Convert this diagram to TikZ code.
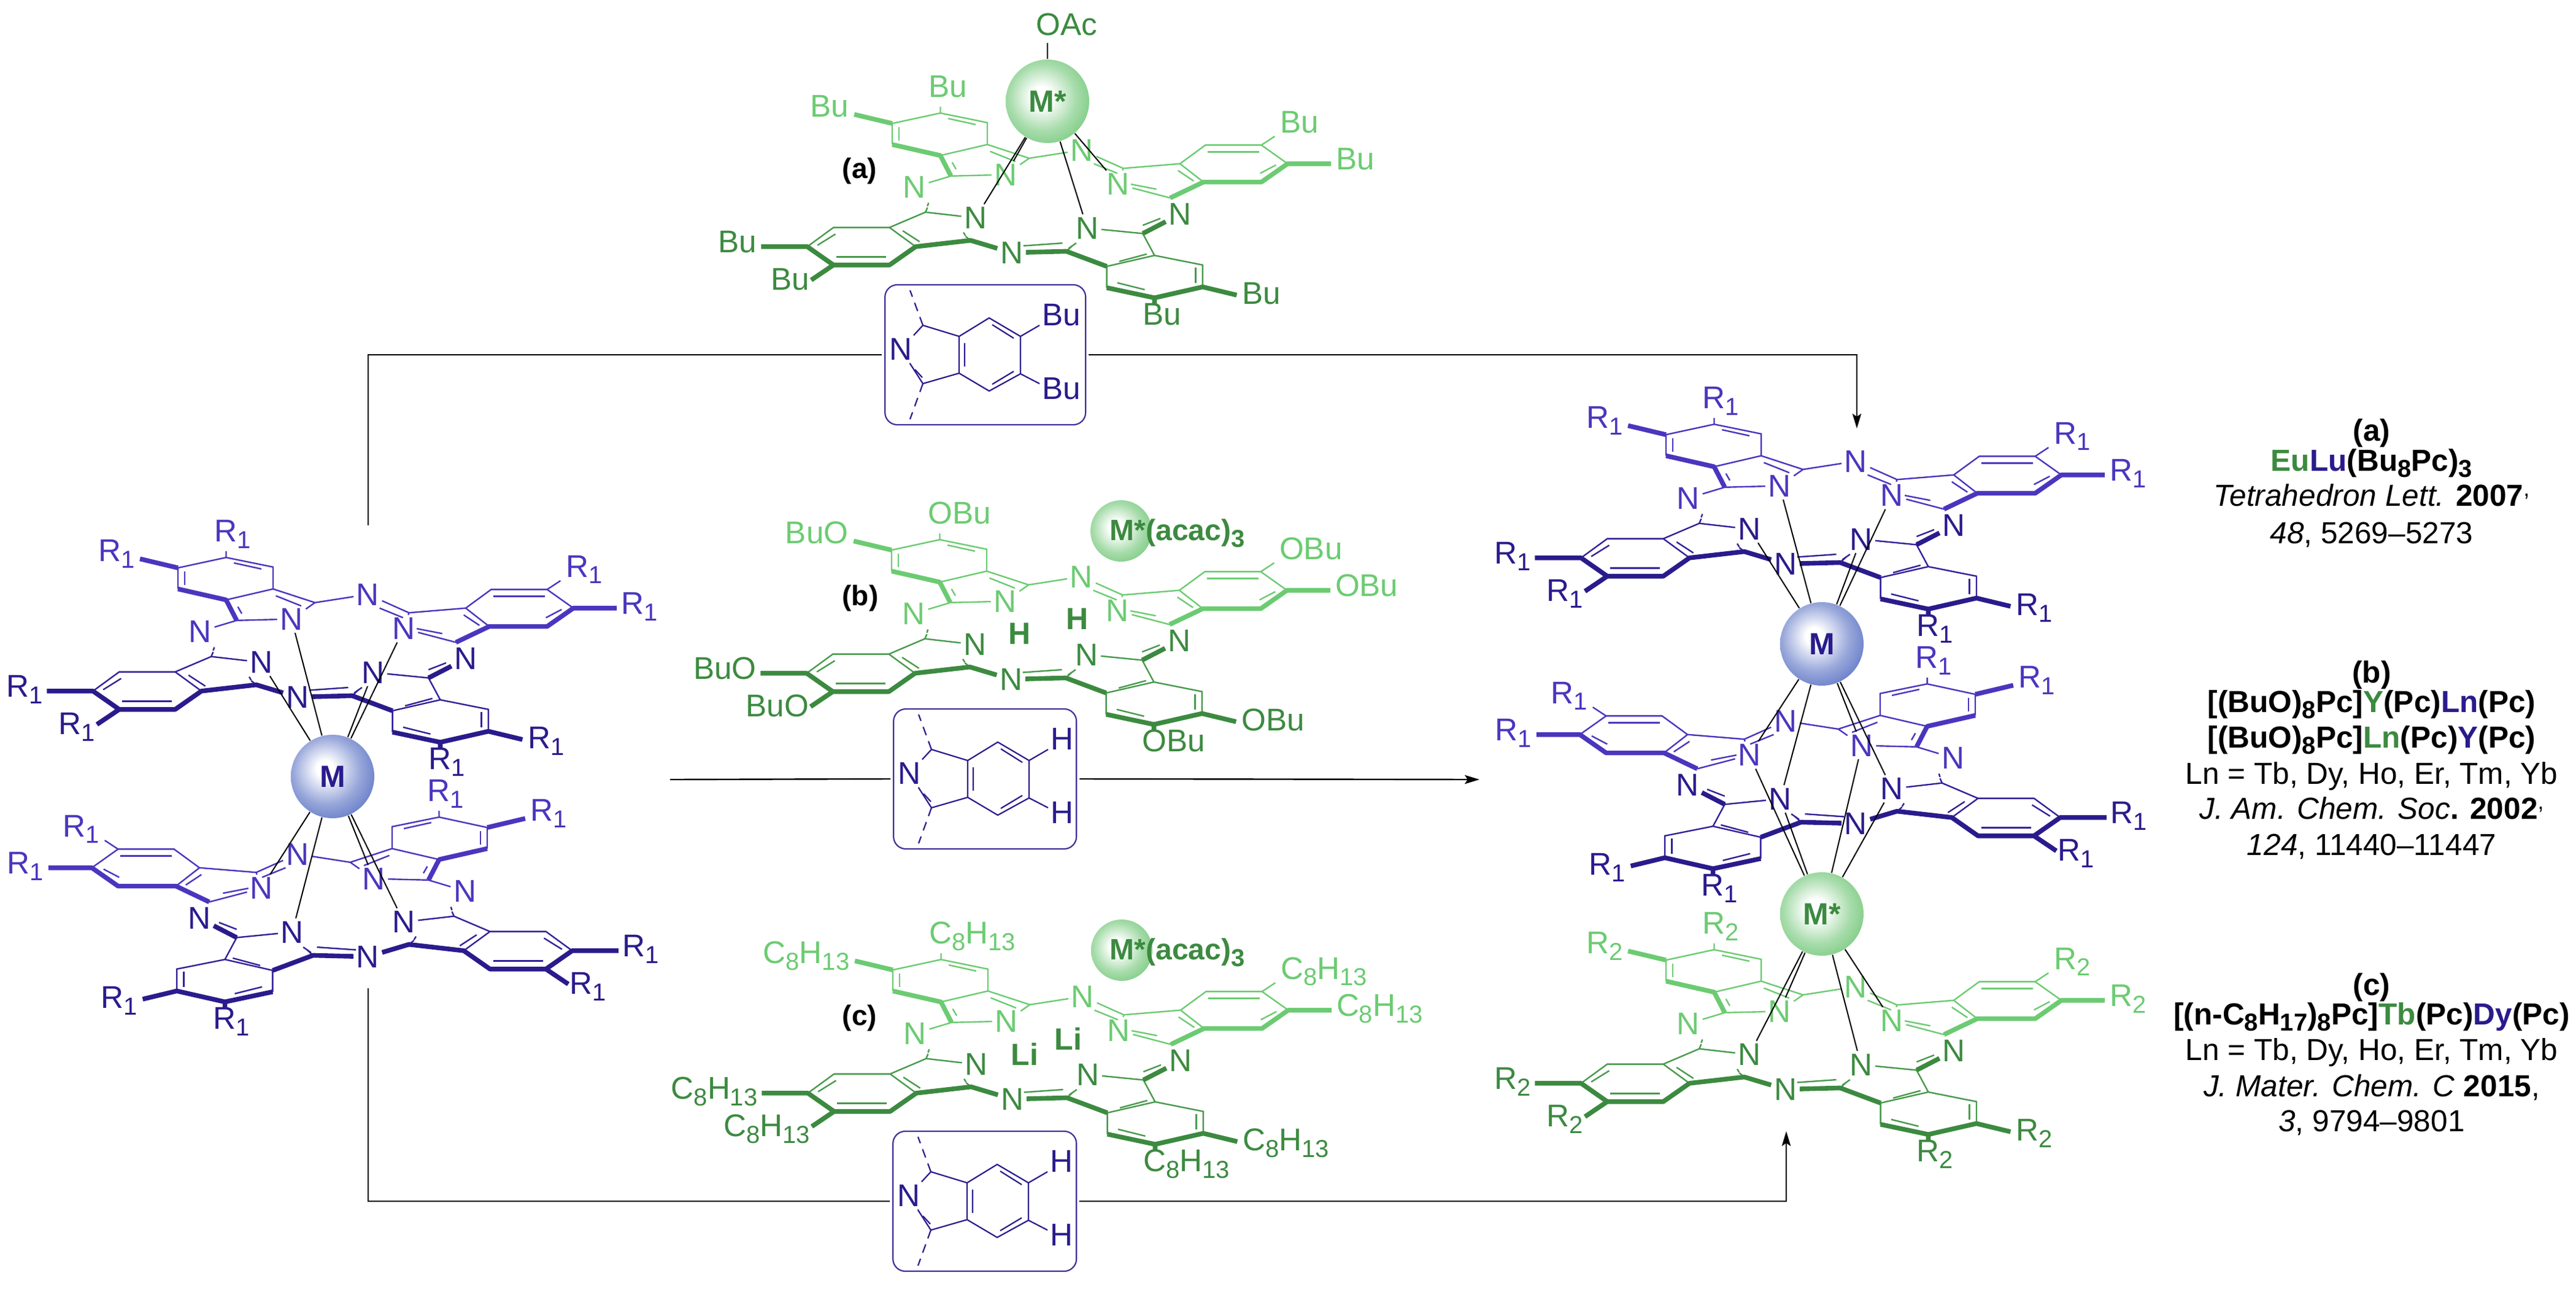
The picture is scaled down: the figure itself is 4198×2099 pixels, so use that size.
\documentclass[tikz,border=0pt]{standalone}
\usepackage{fontspec}
\setmainfont{Liberation Sans}
\usetikzlibrary{arrows.meta,calc}

\definecolor{pcviolet}{HTML}{4A36BE}
\definecolor{pcnavy}{HTML}{2A1B8C}
\definecolor{pclime}{HTML}{6CCB72}
\definecolor{pcgreen}{HTML}{3C8A40}
\definecolor{ballblue}{HTML}{4560BC}
\definecolor{ballgreen}{HTML}{5FBF66}
\pgfdeclareradialshading{blueball}{\pgfpoint{-5bp}{5bp}}{color(0bp)=(white); color(5bp)=(white);
  color(20bp)=(ballblue!55); color(34bp)=(ballblue!90); color(42bp)=(ballblue); color(70bp)=(ballblue)}
\pgfdeclareradialshading{greenball}{\pgfpoint{-4bp}{3bp}}{color(0bp)=(white); color(6bp)=(white);
  color(20bp)=(ballgreen!55); color(34bp)=(ballgreen!90); color(42bp)=(ballgreen); color(70bp)=(ballgreen)}

\newcommand{\lowr}[1]{\raisebox{-2.7pt}{\fontsize{10}{10}\selectfont#1}}

\tikzset{
  atom/.style={font=\fontsize{12.8}{14}\selectfont,inner sep=1pt},
  sublabel/.style={font=\fontsize{12.8}{14}\selectfont,inner sep=0pt},
  boldlabel/.style={font=\fontsize{11.5}{14}\selectfont\bfseries,inner sep=0pt},
  boldatom/.style={font=\fontsize{12.5}{14}\selectfont\bfseries,inner sep=0pt},
  metal/.style={black,line width=.5pt},
  conn/.style={black,line width=.6pt},
  tipconn/.style={conn,-{Stealth[length=6pt,width=3.6pt,inset=1.2pt]}},
  isobox/.style={draw=pcnavy!90!white,line width=.55pt,rounded corners=5pt,minimum height=57pt,
    inner sep=0pt,outer sep=1.3pt},
  ball/.style={circle,draw=none,minimum size=34pt,inner sep=0pt},
  smallball/.style={circle,draw=none,minimum size=25pt,inner sep=0pt},
  reft/.style={font=\fontsize{12.4}{14}\selectfont,anchor=base,inner sep=0pt},
}

% #1 name, #2 #3 centre, #4 1 or -1 (mirror), #5 back colour, #6 front colour, #7 left and #8 right groups
\newcommand{\pcdeck}[8]{%
  \ifnum#4<0 \def\pcL{west}\def\pcR{east}\else \def\pcL{east}\def\pcR{west}\fi
  \begin{scope}[shift={(#2,#3)},xscale=#4*.638,yscale=.446,shift={(-850,-1220)},
      bk/.style={#5,line width=.6pt},fr/.style={#6!75!#5,line width=.6pt}]
    \foreach \n/\px/\py in {a1/578/420,a2/698/455,a3/698/535,a4/578/575,a5/455/535,a6/455/458,
        c1/805/585,c2/605/650,c3/540/782,c4/655/885,c5/900/925,c6/1095/860,c7/1165/730,c8/1045/622,
        b1/515/908,b2/448/838,b3/305/838,b4/238/908,b5/305/975,b6/448/975,
        d1/1125/940,d2/1003/980,d3/1003/1058,d4/1125/1095,d5/1248/1055,d6/1248/975,
        e1/1250/672,e2/1190/605,e3/1255/537,e4/1398/537,e5/1465/605,e6/1398/672,
        rb/358/425,rc/1432/505,rd/1576/605,re/120/908,rf/248/1030,rh/1335/1085,
        ra/578/397,rg/1125/1120,la/578/362,lg/1125/1195}
      \coordinate (#1\n) at (\px,\py);
    \foreach \n/\px/\py in {N1/745/645,N2/512/690,N7/1032/680,N8/940/555}
      \node[atom,text=#5] (#1\n) at (\px,\py) {N};
    \foreach \n/\px/\py in {N3/668/803,N4/760/930,N5/953/840,N6/1190/790}
      \node[atom,text=#6] (#1\n) at (\px,\py) {N};
    % inner lines of the double bonds
    \foreach \xa/\ya/\xb/\yb in {598/440/668/462,472/470/472/520,608/600/618/625,705/560/770/597,
        1185/630/1225/668,1260/562/1392/562,1395/640/1435/610,1065/680/1130/698,1030/640/970/605}
      \draw[bk] (\xa,\ya) -- (\xb,\yb);
    \foreach \xa/\ya/\xb/\yb in {482/850/525/890,310/862/264/903,312/945/440/945,790/905/890/895,
        1035/962/1105/935,1030/1040/1100/1065,1230/985/1230/1040,1095/830/1140/805,
        545/760/548/748,642/868/637/856,905/915/925/895}
      \draw[fr] (\xa,\ya) -- (\xb,\yb);
    \draw[fr] (#1c3) -- (545,765) (#1c4) -- (642,870) (#1c5) -- (915,905);
  \end{scope}
  \draw[#5,line width=.6pt] (#1ra) -- (#1a1) -- (#1a2) -- (#1a3) -- (#1a4)
    (#1a1) -- (#1a6) -- (#1a5) (#1a3) -- (#1c1) -- (#1N1) -- (#1c2) -- (#1N2)
    (#1c1) -- (#1N8) -- (#1c8) -- (#1e2) -- (#1e1) (#1e2) -- (#1e3) -- (#1e4) -- (#1e5)
    (#1e4) -- (#1rc) (#1c8) -- (#1N7) -- (#1c7);
  \draw[#5,line width=1.9pt,line join=round] (#1rb) -- (#1a6) (#1a5) -- (#1a4) -- (#1c2)
    (#1c7) -- (#1e1) -- (#1e6) -- (#1e5) -- (#1rd);
  \draw[#6!75!#5,line width=.6pt] (#1c3) -- (#1N3) (#1c3) -- (#1b2) -- (#1b1) (#1b2) -- (#1b3) -- (#1b4)
    (#1N5) -- (#1c6) -- (#1d1) -- (#1d2) (#1d2) -- (#1d3) (#1d1) -- (#1d6) -- (#1d5);
  \draw[#6,line width=1.9pt,line join=round] (#1re) -- (#1b4) -- (#1b5) -- (#1b6) -- (#1b1) -- (#1c4) -- (#1N4)
    (#1b5) -- (#1rf) (#1N4) -- (#1c5) -- (#1d2) (#1d3) -- (#1d4) -- (#1d5) -- (#1rh) (#1d4) -- (#1rg) (#1c6) -- (#1N6);
  \node[sublabel,text=#5,anchor=base west] (#1Ra) at ($(#1la)+(-20,0)$) {#8};
  \node[sublabel,text=#5,anchor=base \pcL] (#1Rb) at ($(#1rb)+(#4*-8,4)$) {#7};
  \node[sublabel,text=#5,anchor=base \pcR] (#1Rc) at ($(#1rc)+(#4*8,-6)$) {#8};
  \node[sublabel,text=#5,anchor=base \pcR] (#1Rd) at ($(#1rd)+(#4*7,10)$) {#8};
  \node[sublabel,text=#6,anchor=base \pcL] (#1Re) at ($(#1re)+(#4*-6,10)$) {#7};
  \node[sublabel,text=#6,anchor=base \pcL] (#1Rf) at ($(#1rf)+(#4*-2,16)$) {#7};
  \node[sublabel,text=#6,anchor=base west] (#1Rg) at ($(#1lg)+(-20,0)$) {#8};
  \node[sublabel,text=#6,anchor=base \pcR] (#1Rh) at ($(#1rh)+(#4*8,15)$) {#8};
}

% #1 name, #2 #3 the N atom, #4 box width, #5 substituent
\newcommand{\isoindole}[5]{%
  \node[isobox,minimum width=#4,anchor=west] (#1) at (#2-31,#3+9) {};
  \begin{scope}[shift={(#2,#3)},pcnavy,line width=.55pt]
    \node[atom,text=pcnavy] (#1N) at (0,0) {N};
    \foreach \n/\px/\py in {t/36/-39,u/36/56,p1/95/-21,p2/144/-51,p3/195/-21,p4/195/40,p5/144/68,p6/95/39,
        q1/15/-96,q2/15/114,s1/226/-39,s2/226/56}
      \coordinate (#1\n) at (\px,\py);
    \node[sublabel,text=pcnavy,anchor=base west] (#1X) at (229,-39) {#5};
    \node[sublabel,text=pcnavy,anchor=base west] (#1Y) at (229,81) {#5};
    \draw (#1N) -- (#1t) -- (#1p1) -- (#1p2) -- (#1p3) -- (#1p4) -- (#1p5) -- (#1p6) -- (#1p1)
      (#1N) -- (#1u) -- (#1p6) (#1p3) -- (#1s1) (#1p4) -- (#1s2);
    \draw (104,-10) -- (104,28) (149,-40) -- (184,-18) (184,36) -- (149,57) (23,33) -- (35,46);
    \draw[dash pattern=on 3.6pt off 2.6pt] (#1t) -- (#1q1) (#1u) -- (#1q2);
  \end{scope}
}

% lines from a metal to the four inner N of a ring
\newcommand{\pclines}[2]{\foreach \k in {N1,N3,N5,N7} \draw[metal] (#1) -- (#2\k);}

\begin{document}
\begin{tikzpicture}[x=.25pt,y=-.25pt]
  \useasboundingbox (0,0) rectangle (4198,2099);

  % the sandwich on the left
  \pcdeck{lu}{542}{1265}{1}{pcviolet}{pcnavy}{R\lowr{1}}{R\lowr{1}}
  \pcdeck{ld}{542}{1688}{-1}{pcviolet}{pcnavy}{R\lowr{1}}{R\lowr{1}}
  \node[ball,shading=blueball,text=pcnavy,boldatom] (mleft) at (542,1265) {M};
  \pclines{mleft}{lu}
  \pclines{mleft}{ld}

  % the three ligands in the middle
  \pcdeck{ca}{1706}{541}{1}{pclime}{pcgreen}{Bu}{Bu}
  \node[ball,shading=greenball,text=pcgreen,boldatom] (mstara) at (1707,165) {M*};
  \pclines{mstara}{ca}
  \coordinate (oacend) at (1707,70);
  \draw[metal] (mstara) -- (oacend);
  \node[sublabel,text=pcgreen] (oac) at (1738,40) {OAc};
  \node[boldlabel] (laba) at (1401,279) {(a)};
  \isoindole{boxa}{1468}{569}{81.75pt}{Bu}

  \pcdeck{cb}{1705}{1236}{1}{pclime}{pcgreen}{BuO}{OBu}
  \node[smallball,shading=greenball] (mstarb) at (1827,865) {};
  \node[boldatom,font=\fontsize{12}{14}\selectfont\bfseries,text=pcgreen,anchor=west] (acacb) at (1808,869) {M*(acac)\lowr{3}};
  \node[boldlabel] (labb) at (1402,975) {(b)};
  \node[boldatom,text=pcgreen] (hleft) at (1662,1032) {H};
  \node[boldatom,text=pcgreen] (hright) at (1756,1008) {H};
  \isoindole{boxb}{1482}{1260}{74.5pt}{H}

  \pcdeck{cc}{1707}{1920}{1}{pclime}{pcgreen}{C\lowr{8}H\lowr{13}}{C\lowr{8}H\lowr{13}}
  \node[smallball,shading=greenball] (mstarc) at (1828,1548) {};
  \node[boldatom,font=\fontsize{12}{14}\selectfont\bfseries,text=pcgreen,anchor=west] (acacc) at (1808,1552) {M*(acac)\lowr{3}};
  \node[boldlabel] (labc) at (1401,1659) {(c)};
  \node[boldatom,text=pcgreen] (lileft) at (1670,1717) {Li};
  \node[boldatom,text=pcgreen] (liright) at (1741,1692) {Li};
  \isoindole{boxc}{1481}{1948}{74.75pt}{H}

  % the triple decker on the right
  \pcdeck{ru}{2967}{1048}{1}{pcviolet}{pcnavy}{R\lowr{1}}{R\lowr{1}}
  \pcdeck{rm}{2967}{1471}{-1}{pcviolet}{pcnavy}{R\lowr{1}}{R\lowr{1}}
  \pcdeck{rd}{2967}{1904}{1}{pclime}{pcgreen}{R\lowr{2}}{R\lowr{2}}
  \node[ball,shading=blueball,text=pcnavy,boldatom] (mright) at (2969,1049) {M};
  \node[ball,shading=greenball,text=pcgreen,boldatom] (mstar) at (2969,1489) {M*};
  \pclines{mright}{ru}
  \pclines{mright}{rm}
  \pclines{mstar}{rm}
  \pclines{mstar}{rd}

  % arrows
  \coordinate (startup) at (600,856);
  \coordinate (startmid) at (1092,1270);
  \coordinate (startlow) at (600,1610);
  \coordinate (tipup) at (3026,698);
  \coordinate (tipmid) at (2411,1270);
  \coordinate (tiplow) at (2911,1843);
  \draw[conn] (startup) |- (boxa.west);
  \draw[tipconn] (boxa.east) -| (tipup);
  \draw[conn] (startmid) -- (boxb.west);
  \draw[tipconn] (boxb.east) -- (tipmid);
  \draw[conn] (startlow) |- (boxc.west);
  \draw[tipconn] (boxc.east) -| (tiplow);

  % references on the right
  \node[reft] (refa1) at (3865,718) {\textbf{(a)}};
  \node[reft] (refa2) at (3865,767) {\textbf{\textcolor{pcgreen}{Eu}\textcolor{pcnavy}{Lu}(Bu\lowr{8}Pc)\lowr{3}}};
  \node[reft] (refa3) at (3865,824) {\textit{Tetrahedron Lett.} \textbf{2007}\raisebox{4pt}{\fontsize{9}{9}\selectfont,}};
  \node[reft] (refa4) at (3865,885) {\textit{48}, 5269--5273};

  \node[reft] (refb1) at (3865,1112) {\textbf{(b)}};
  \node[reft] (refb2) at (3865,1160) {\textbf{[(BuO)\lowr{8}Pc]\textcolor{pcgreen}{Y}(Pc)\textcolor{pcnavy}{Ln}(Pc)}};
  \node[reft] (refb3) at (3865,1218) {\textbf{[(BuO)\lowr{8}Pc]\textcolor{pcgreen}{Ln}(Pc)\textcolor{pcnavy}{Y}(Pc)}};
  \node[reft] (refb4) at (3865,1277) {Ln = Tb, Dy, Ho, Er, Tm, Yb};
  \node[reft] (refb5) at (3865,1334) {\textit{J. Am. Chem. Soc}\textbf{.} \textbf{2002}\raisebox{4pt}{\fontsize{9}{9}\selectfont,}};
  \node[reft] (refb6) at (3865,1393) {\textit{124}, 11440--11447};

  \node[reft] (refc1) at (3865,1621) {\textbf{(c)}};
  \node[reft] (refc2) at (3865,1669) {\textbf{[(n-C\lowr{8}H\lowr{17})\lowr{8}Pc]\textcolor{pcgreen}{Tb}(Pc)\textcolor{pcnavy}{Dy}(Pc)}};
  \node[reft] (refc3) at (3865,1727) {Ln = Tb, Dy, Ho, Er, Tm, Yb};
  \node[reft] (refc4) at (3865,1786) {\textit{J. Mater. Chem. C} \textbf{2015},};
  \node[reft] (refc5) at (3865,1843) {\textit{3}, 9794--9801};
\end{tikzpicture}
\end{document}
